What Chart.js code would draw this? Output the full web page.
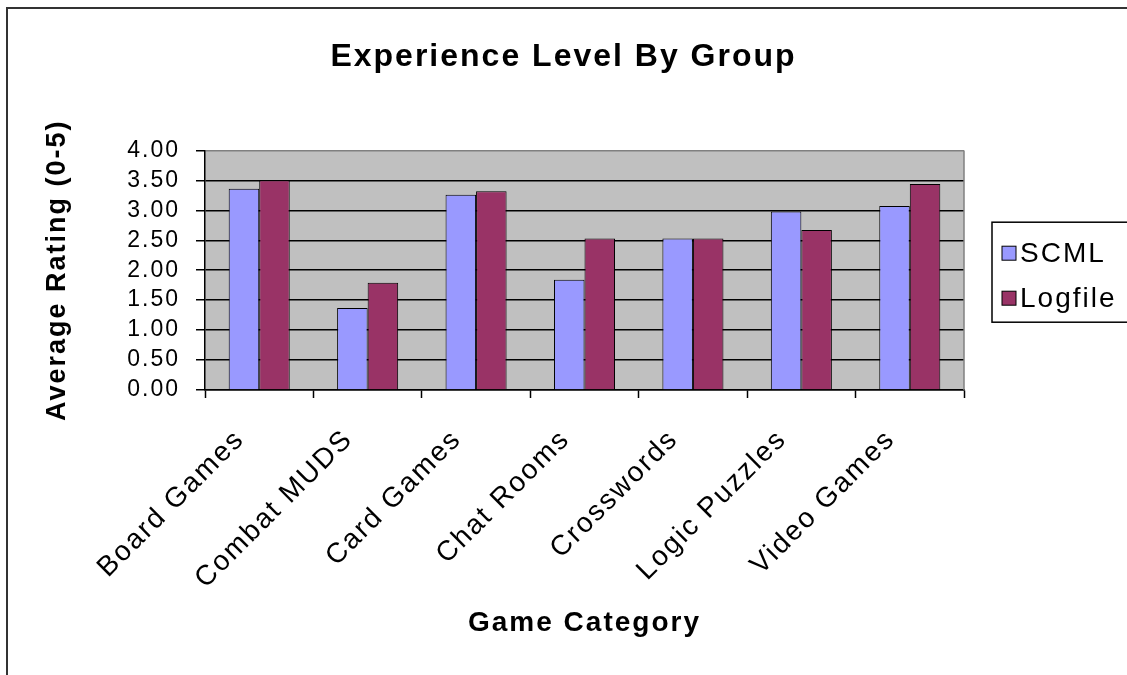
<!DOCTYPE html>
<html>
<head>
<meta charset="utf-8">
<title>Experience Level By Group</title>
<script src="https://cdn.jsdelivr.net/npm/chart.js@4.4.0/dist/chart.umd.min.js"></script>
<style>
    html, body { margin: 0; padding: 0; background: #ffffff; }
    #experienceChart { display: block; }
</style>
</head>
<body>
<canvas id="experienceChart" width="1127" height="675"></canvas>
<script>
// DATA
const categories = ['Board Games', 'Combat MUDS', 'Card Games', 'Chat Rooms', 'Crosswords', 'Logic Puzzles', 'Video Games'];
const scmlRatings = [3.36, 1.37, 3.26, 1.84, 2.53, 2.98, 3.07];
const logfileRatings = [3.50, 1.79, 3.32, 2.53, 2.53, 2.67, 3.44];
const seriesNames = ['SCML', 'Logfile'];
const ratingMin = 0;
const ratingMax = 4;
const ratingStep = 0.5;

const FONT = '"Liberation Sans", Arial, sans-serif';
const SPACING = '2px';

Chart.defaults.font.family = FONT;
Chart.defaults.color = '#000000';

// wider letter spacing, set before measuring and before drawing
const letterSpacing = {
    id: 'letterSpacing',
    beforeUpdate: (chart) => { chart.ctx.letterSpacing = SPACING; },
    beforeDraw: (chart) => { chart.ctx.letterSpacing = SPACING; },
};

// grey plot area, outer frame, grey right edge of the plot
const plotBackground = {
    id: 'plotBackground',
    beforeDraw: (chart) => {
        const { ctx, chartArea } = chart;
        ctx.save();
        ctx.fillStyle = '#c0c0c0';
        ctx.fillRect(chartArea.left, chartArea.top, chartArea.right - chartArea.left, chartArea.bottom - chartArea.top);

        ctx.strokeStyle = '#333333';
        ctx.lineWidth = 2;
        ctx.beginPath();
        ctx.moveTo(7, chart.height);
        ctx.lineTo(7, 8);
        ctx.lineTo(chart.width, 8);
        ctx.stroke();
        ctx.restore();
    },
    afterDraw: (chart) => {
        const { ctx, chartArea } = chart;
        ctx.save();
        ctx.strokeStyle = '#808080';
        ctx.lineWidth = 1.5;
        ctx.beginPath();
        ctx.moveTo(chartArea.right, chartArea.top);
        ctx.lineTo(chartArea.right, chartArea.bottom);
        ctx.stroke();
        ctx.restore();
    },
};

// boxed legend in the space kept free right of the plot
const boxedLegend = {
    id: 'boxedLegend',
    afterDraw: (chart) => {
        const { ctx, chartArea } = chart;
        const left = chartArea.right + 28;
        const mid = (chartArea.top + chartArea.bottom) / 2;

        ctx.save();
        ctx.letterSpacing = SPACING;
        ctx.strokeStyle = '#000000';
        ctx.lineWidth = 1.5;
        ctx.strokeRect(left, mid - 48, 150, 100);

        ctx.font = `28px ${FONT}`;
        ctx.textBaseline = 'middle';
        ctx.textAlign = 'left';
        chart.data.datasets.forEach((dataset, i) => {
            const y = mid - 17 + i * 45;
            ctx.fillStyle = dataset.backgroundColor;
            ctx.fillRect(left + 10, y - 7, 14, 14);
            ctx.lineWidth = 1;
            ctx.strokeRect(left + 10, y - 7, 14, 14);
            ctx.fillStyle = '#000000';
            ctx.fillText(dataset.label, left + 28, y + 1);
        });
        ctx.restore();
    },
};

const experienceData = {
    labels: categories,
    datasets: [
        {
            label: seriesNames[0],
            data: scmlRatings,
            backgroundColor: '#9999ff',
            borderColor: '#000000',
            borderWidth: 1,
        },
        {
            label: seriesNames[1],
            data: logfileRatings,
            backgroundColor: '#993366',
            borderColor: '#000000',
            borderWidth: 1,
        },
    ],
};

const experienceConfig = {
    type: 'bar',
    data: experienceData,
    options: {
        responsive: false,
        animation: false,
        layout: {
            padding: 0,
        },
        datasets: {
            bar: {
                categoryPercentage: 0.563,
                barPercentage: 1.0,
            },
        },
        scales: {
            x: {
                afterFit: (scale) => { scale.height = 285; },
                grid: {
                    offset: true,
                    drawOnChartArea: false,
                    drawTicks: true,
                    tickLength: 8,
                    tickColor: '#000000',
                    tickWidth: 1.5,
                },
                border: { color: '#000000', width: 1.5 },
                ticks: {
                    autoSkip: false,
                    minRotation: 45,
                    maxRotation: 45,
                    padding: 25,
                    labelOffset: -19,
                    font: { size: 28 },
                    color: '#000000',
                },
                title: {
                    display: true,
                    text: 'Game Category',
                    font: { size: 28, weight: 'bold' },
                    color: '#000000',
                    padding: { top: 0, bottom: 35 },
                },
            },
            y: {
                min: ratingMin,
                max: ratingMax,
                afterFit: (scale) => { scale.width = 205; },
                grid: {
                    color: (ctx) => (ctx.tick && ctx.tick.value === ratingMax ? '#808080' : '#000000'),
                    lineWidth: 1.5,
                    tickLength: 9,
                    tickColor: '#000000',
                },
                border: { color: '#000000', width: 1.5 },
                ticks: {
                    autoSkip: false,
                    stepSize: ratingStep,
                    padding: 16,
                    font: { size: 23 },
                    color: '#000000',
                    callback: (value) => Number(value).toFixed(2),
                },
                title: {
                    display: true,
                    text: 'Average Rating (0-5)',
                    font: { size: 27, weight: 'bold' },
                    color: '#000000',
                    padding: { top: 41, bottom: 0 },
                },
            },
            // empty axis on the right, only keeps room for the legend box
            legendSpace: {
                type: 'linear',
                axis: 'y',
                position: 'right',
                afterFit: (scale) => { scale.width = 163; },
                grid: { display: false, drawTicks: false },
                border: { display: false },
                ticks: { display: false },
            },
        },
        plugins: {
            legend: { display: false },
            tooltip: { enabled: false },
            title: {
                display: true,
                text: 'Experience Level By Group',
                font: { size: 32, weight: 'bold' },
                color: '#000000',
                padding: { top: 38, bottom: 74 },
            },
        },
    },
    plugins: [letterSpacing, plotBackground, boxedLegend],
};

new Chart(document.getElementById('experienceChart'), experienceConfig);
</script>
</body>
</html>
